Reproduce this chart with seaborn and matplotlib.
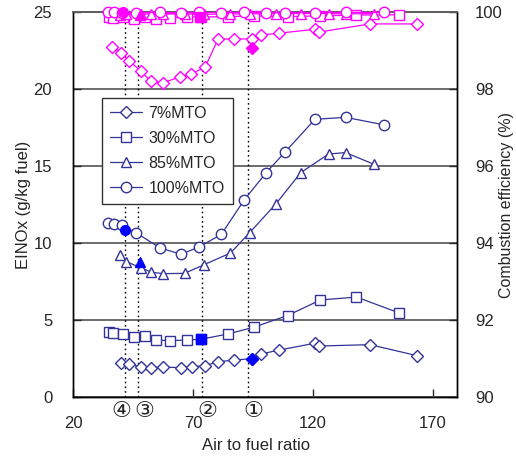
import matplotlib
matplotlib.use("Agg")
import matplotlib.pyplot as plt
import matplotlib.transforms as mtransforms
import seaborn as sns

# NOx emission index (left axis)
x_7 = [39.9, 43.3, 48.2, 52.4, 57.6, 65.0, 69.6, 74.8, 80.5, 87.1, 94.6, 98.2, 106.0, 120.7, 122.6, 143.7, 163.5]
nox_7 = [2.19, 2.12, 1.97, 1.91, 1.94, 1.91, 1.97, 2.03, 2.29, 2.40, 2.49, 2.79, 3.05, 3.49, 3.31, 3.40, 2.68]

x_30 = [34.9, 36.7, 40.8, 45.4, 50.2, 54.4, 60.5, 67.3, 73.3, 84.5, 95.3, 109.4, 123.1, 138.1, 155.7]
nox_30 = [4.24, 4.17, 4.07, 3.90, 3.96, 3.70, 3.66, 3.70, 3.75, 4.09, 4.53, 5.29, 6.30, 6.49, 5.47]

x_85 = [39.5, 42.2, 48.2, 52.7, 57.6, 66.5, 74.6, 85.6, 93.6, 104.5, 114.9, 126.5, 133.6, 145.4]
nox_85 = [9.22, 8.79, 8.40, 8.10, 8.01, 8.03, 8.59, 9.35, 10.67, 12.53, 14.57, 15.78, 15.87, 15.11]

x_100 = [34.4, 37.1, 40.3, 46.2, 56.3, 65.0, 72.5, 81.8, 91.4, 100.5, 108.5, 120.8, 133.6, 149.4]
nox_100 = [11.32, 11.25, 11.15, 10.67, 9.68, 9.27, 9.74, 10.56, 12.81, 14.57, 15.93, 18.03, 18.16, 17.68]

# combustion efficiency (right axis)
x_eff_7 = [36.4, 39.9, 43.3, 48.2, 52.3, 57.5, 64.7, 69.3, 75.0, 80.5, 87.1, 94.6, 98.2, 105.8, 120.7, 122.7, 143.7, 163.3]
eff_7 = [99.10, 98.94, 98.74, 98.47, 98.21, 98.16, 98.32, 98.40, 98.56, 99.30, 99.30, 99.30, 99.40, 99.45, 99.55, 99.48, 99.69, 99.69]
eff_30 = [99.87, 99.84, 99.86, 99.81, 99.87, 99.81, 99.84, 99.87, 99.87, 99.88, 99.90, 99.88, 99.90, 99.92, 99.93]
eff_85 = [99.93, 99.94, 99.94, 99.95, 99.95, 99.95, 99.94, 99.95, 99.95, 99.96, 99.96, 99.96, 99.95, 99.96]
eff_100 = [99.99, 99.99, 99.98, 99.98, 99.99, 99.98, 99.99, 99.98, 99.99, 99.98, 99.98, 99.98, 99.99, 99.99]

# operating points (4)..(1)
op_x = [41.8, 47.0, 73.7, 92.8]
op_labels = ["④", "③", "②", "①"]
op_label_x = [40.2, 49.8, 76.0, 95.0]
op_nox_x = [41.5, 47.8, 73.3, 94.6]
op_nox = [10.84, 8.75, 3.75, 2.49]
op_eff_x = [40.8, 47.8, 73.0, 94.6]
op_eff = [100.0, 99.93, 99.87, 99.06]
op_markers = ["o", "^", "s", "D"]

series = [
    ("7%MTO", "D", 6, x_7, nox_7, x_eff_7, eff_7),
    ("30%MTO", "s", 7, x_30, nox_30, x_30, eff_30),
    ("85%MTO", "^", 7, x_85, nox_85, x_85, eff_85),
    ("100%MTO", "o", 7.5, x_100, nox_100, x_100, eff_100),
]

sns.set_style("ticks")
plt.rcParams["font.family"] = ["Liberation Sans", "DejaVu Sans"]

navy = "#333399"
magenta = "#FF00FF"

fig = plt.figure(figsize=(5.16, 4.57), dpi=100)
ax = fig.add_axes([73 / 516, 1 - 397 / 457, 384 / 516, 385 / 457])
ax2 = ax.twinx()

for name, mk, ms, xs, ys, xe, ye in series:
    sns.lineplot(x=xs, y=ys, ax=ax, sort=False, estimator=None, color=navy, lw=0.9,
                 marker=mk, markersize=ms, markerfacecolor="white", markeredgecolor=navy,
                 markeredgewidth=1.0, label=name, zorder=4)
    sns.lineplot(x=xe, y=ye, ax=ax2, sort=False, estimator=None, color=magenta, lw=0.9,
                 marker=mk, markersize=ms, markerfacecolor="white", markeredgecolor=magenta,
                 markeredgewidth=1.0, clip_on=False, legend=False, zorder=4)

for i, mk in enumerate(op_markers):
    ms = 7 if mk != "D" else 6
    ax.plot(op_nox_x[i], op_nox[i], marker=mk, ms=ms, color="#0000FF", ls="none", zorder=6)
    ax2.plot(op_eff_x[i], op_eff[i], marker=mk, ms=ms, color=magenta, ls="none", zorder=6,
             clip_on=False)

ax.vlines(op_x, 0, 24.8, colors="black", linestyles=(0, (1.2, 2.2)), lw=1.0, zorder=2)
trans = mtransforms.blended_transform_factory(ax.transData, ax.transAxes)
for xv, lab in zip(op_label_x, op_labels):
    ax.text(xv, -0.037, lab, transform=trans, ha="center", va="center", fontsize=16,
            family=["DejaVu Sans"])

ax.set_xlim(20, 180)
ax.set_ylim(0, 25)
ax2.set_ylim(90, 100)
ax.set_xticks([20, 70, 120, 170])
ax.set_yticks([0, 5, 10, 15, 20, 25])
ax2.set_yticks([90, 92, 94, 96, 98, 100])

ax.yaxis.grid(True, color="#606060", lw=1.3)
ax.set_axisbelow(True)
ax.tick_params(axis="x", direction="in", length=6, width=1, pad=14, labelsize=12)
ax.tick_params(axis="y", direction="in", length=6, width=1, pad=15, labelsize=12)
ax2.tick_params(axis="y", direction="in", length=6, width=1, pad=13, labelsize=12)

for a in (ax, ax2):
    for s in a.spines.values():
        s.set_color("black")
        s.set_linewidth(1.0)
    a.spines["top"].set_color("#606060")
    a.spines["top"].set_linewidth(1.3)

ax.set_xlabel("Air to fuel ratio", fontsize=12, va="center")
ax.xaxis.set_label_coords(0.478, -0.1265)
ax.set_ylabel("EINOx (g/kg fuel)", fontsize=12, va="center")
ax.yaxis.set_label_coords(-0.13, 0.5)
ax2.set_ylabel("Combustion efficiency (%)", fontsize=11.5, va="center")
ax2.yaxis.set_label_coords(1.128, 0.5)

handles, labels = ax.get_legend_handles_labels()
leg = ax.legend(handles, labels, loc="upper left", bbox_to_anchor=(0.076, 0.777),
                borderaxespad=0, fontsize=11.5, frameon=True, fancybox=False,
                edgecolor="#333333", framealpha=1, handlelength=2.0, labelspacing=0.62,
                borderpad=0.5, handletextpad=0.4)
leg.get_frame().set_linewidth(1.0)
leg.set_zorder(10)

fig.savefig("out.png", dpi=100)
